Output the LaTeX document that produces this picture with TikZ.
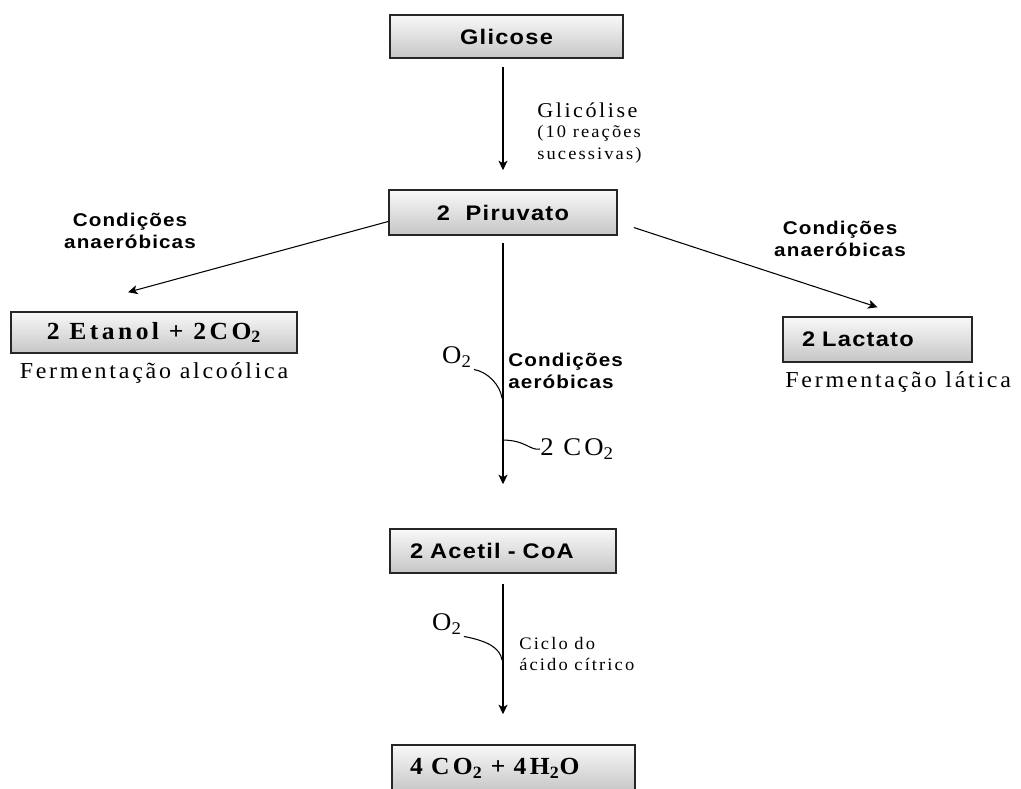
\documentclass[tikz,border=0pt]{standalone}
\usepackage{fontspec}
\setmainfont{Liberation Serif}
\newfontfamily\sansnegrito[LetterSpace=6,FakeStretch=1.12]{Liberation Sans}
\newfontfamily\serifaberta[LetterSpace=12,FakeStretch=1.05]{Liberation Serif}
\newfontfamily\serifnegrito[LetterSpace=14,FakeStretch=1.04]{Liberation Serif}
\usetikzlibrary{positioning,arrows.meta}

\tikzset{
  caixa/.style={draw=black!85, line width=0.9pt, top color=gray!5, bottom color=gray!45},
  caixasans/.style={caixa, font=\sansnegrito\bfseries\fontsize{12}{14}\selectfont},
  caixaserif/.style={caixa, font=\serifnegrito\bfseries\fontsize{14}{16}\selectfont},
  seta/.style={-{Stealth[length=1.9mm,width=1.8mm,inset=0.5mm]}, line width=0.7pt},
  ligacao/.style={line width=0.6pt},
  condicao/.style={font=\sansnegrito\bfseries\fontsize{10.5}{12.5}\selectfont, align=center, inner sep=0pt},
  nota/.style={font=\serifaberta\fontsize{13}{15}\selectfont, inner sep=0pt},
  notagrande/.style={font=\serifaberta\fontsize{14.5}{16}\selectfont, inner sep=0pt},
  notapequena/.style={font=\serifaberta\fontsize{10}{12.5}\selectfont, align=left, inner sep=0pt}
}

\begin{document}
\begin{tikzpicture}[x=0.02cm,y=-0.02cm]
  \useasboundingbox (0,0) rectangle (1021,788);

  % caixas
  \node[caixasans, minimum width=4.66cm, minimum height=0.86cm] (glicose) at (506.5,36.5) {Glicose};
  \node[caixasans, minimum width=4.56cm, minimum height=0.9cm] (piruvato) at (503,212.5) {2\ \ Piruvato};
  \node[caixaserif, minimum width=5.72cm, minimum height=0.82cm] (etanol) at (154,332.5) {2 Etanol + 2CO\textsubscript{2}};
  \node[caixasans, inner xsep=0.38cm, text width=3.02cm, align=left, minimum height=0.9cm] (lactato) at (877.5,339.5) {2 Lactato};
  \node[caixasans, inner xsep=0.4cm, text width=3.72cm, align=left, minimum height=0.88cm] (acetil) at (503,551) {2 Acetil - CoA};
  \node[caixaserif, inner xsep=0.36cm, text width=4.14cm, align=left, minimum height=0.94cm] (produtos) at (513.5,768.5) {4 CO\textsubscript{2} + 4H\textsubscript{2}O};

  % textos
  \node[nota, anchor=west] (glicolise) at (537,110) {\fontsize{12}{14}\selectfont Glicólise};
  \node[notapequena, anchor=north west] (reacoes) at (537,125) {(10 reações\\sucessivas)};
  \node[condicao] (anaerobicasesq) at (130,231) {Condições\\anaeróbicas};
  \node[condicao] (anaerobicasdir) at (840,239) {Condições\\anaeróbicas};
  \node[condicao, align=left, anchor=west] (aerobicas) at (508,371) {Condições\\aeróbicas};
  \node[nota, below=0.17cm of etanol] (alcoolica) {Fermentação alcoólica};
  \node[nota, anchor=north west] (latica) at (785,371) {Fermentação lática};
  \node[notagrande, inner sep=1pt] (oxigenio) at (457,357) {O\textsubscript{2}};
  \node[notagrande, anchor=west] (gascarbonico) at (540,449) {2 CO\textsubscript{2}};
  \node[notagrande, inner sep=1pt] (oxigeniociclo) at (447,624) {O\textsubscript{2}};
  \node[notapequena, anchor=west] (ciclo) at (519,654) {Ciclo do\\ácido cítrico};

  \coordinate (entrada) at (502,398);
  \coordinate (saida) at (502,440);
  \coordinate (entradaciclo) at (502,660);

  % setas
  \draw[seta, shorten <=0.16cm, shorten >=0.38cm] (glicose.south -| piruvato.north) -- (piruvato.north);
  \draw[seta, shorten <=0.14cm, shorten >=0.88cm] (piruvato.south) -- (acetil.north);
  \draw[seta, shorten <=0.2cm, shorten >=0.6cm] (acetil.south) -- (acetil.south |- produtos.north);
  \draw[seta, line width=0.6pt] ([yshift=-0.18cm]piruvato.west) -- ([shift={(-26,-19)}]etanol.north);
  \draw[seta, line width=0.6pt] ([shift={(16,15)}]piruvato.east) -- ([yshift=0.18cm]lactato.north);

  % O2 e CO2
  \draw[ligacao] (oxigenio.south east) .. controls (488,372) and (500,385) .. (entrada);
  \draw[ligacao] (saida) .. controls (526,440) and (530,451) .. (gascarbonico.west);
  \draw[ligacao] (oxigeniociclo.south east) .. controls (488,641) and (500,648) .. (entradaciclo);
\end{tikzpicture}
\end{document}
